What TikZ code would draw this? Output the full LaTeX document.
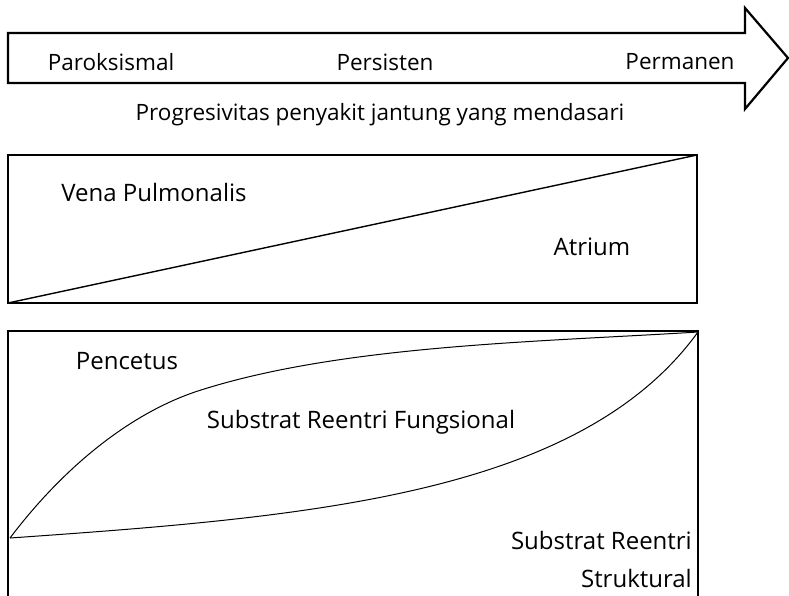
\documentclass[tikz,border=0pt]{standalone}
\usepackage{fontspec}
\setmainfont{Open Sans}
\begin{document}
\begin{tikzpicture}[x=1pt,y=-1pt,
    lbl/.style={font=\fontsize{22.5}{26}\selectfont, inner sep=0pt},
    boxlbl/.style={font=\fontsize{24}{28}\selectfont, inner sep=0pt},
    frame/.style={line width=2.2pt, line join=miter}]
  \useasboundingbox (0,0) rectangle (789,596);
  % stage arrow
  \draw[frame] (8,33) -- (745,33) -- (745,8) -- (788,58) -- (745,109) -- (745,83) -- (8,83) -- cycle;
  \node[lbl] (parok) at (111,62) {Paroksismal};
  \node[lbl] (persis) at (385,62) {Persisten};
  \node[lbl] (perman) at (680,62) {Permanen};
  \node[lbl] (progres) at (380,115) {Progresivitas penyakit jantung yang mendasari};
  % vena pulmonalis vs atrium
  \draw[frame] (8,155) rectangle (697,303);
  \draw[line width=1.4pt] (8,303) -- (697,155);
  \node[boxlbl] (vena) at (154,192) {Vena Pulmonalis};
  \node[boxlbl] (atrium) at (592,247) {Atrium};
  % pencetus vs substrat
  \draw[frame] (8,600) -- (8,331) -- (698,331) -- (698,600);
  \coordinate (kiri) at (10,538);
  \coordinate (kanan) at (698,332);
  \draw[line width=1pt] (kiri) .. controls (66,464) and (134,411) .. (201,390)
    .. controls (343,345) and (538,342) .. (kanan);
  \draw[line width=1pt] (kiri) .. controls (310,517) and (580,495) .. (kanan);
  \node[boxlbl] (pencetus) at (127,361) {Pencetus};
  \node[boxlbl] (fungsi) at (361,422) {Substrat Reentri Fungsional};
  \node[boxlbl, anchor=east] (struk1) at (692,540) {Substrat Reentri};
  \node[boxlbl, anchor=east] (struk2) at (692,578) {Struktural};
\end{tikzpicture}
\end{document}
